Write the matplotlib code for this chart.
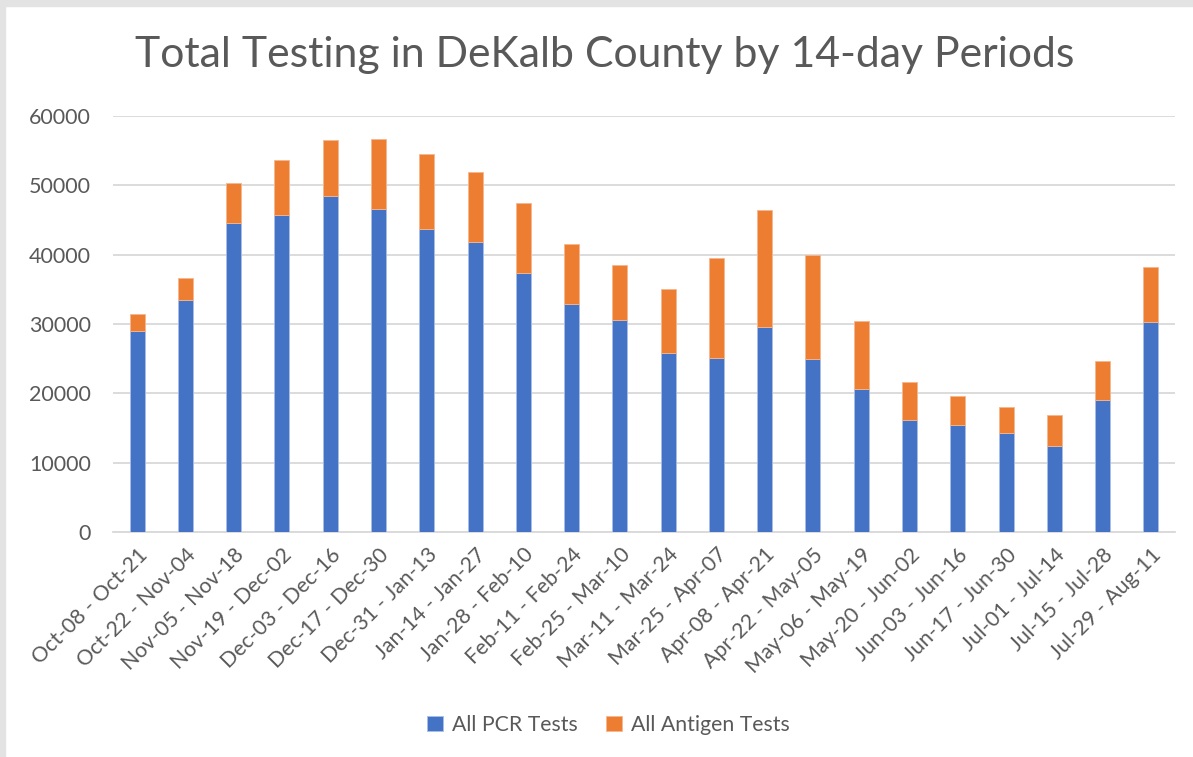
import matplotlib
matplotlib.use("Agg")
import matplotlib.pyplot as plt
from matplotlib.patches import Rectangle

# 14-day periods and test counts
periods = [
    "Oct-08 - Oct-21", "Oct-22 - Nov-04", "Nov-05 - Nov-18", "Nov-19 - Dec-02",
    "Dec-03 - Dec-16", "Dec-17 - Dec-30", "Dec-31 - Jan-13", "Jan-14 - Jan-27",
    "Jan-28 - Feb-10", "Feb-11 - Feb-24", "Feb-25 - Mar-10", "Mar-11 - Mar-24",
    "Mar-25 - Apr-07", "Apr-08 - Apr-21", "Apr-22 - May-05", "May-06 - May-19",
    "May-20 - Jun-02", "Jun-03 - Jun-16", "Jun-17 - Jun-30", "Jul-01 - Jul-14",
    "Jul-15 - Jul-28", "Jul-29 - Aug-11",
]
pcr_tests = [29040, 33460, 44520, 45720, 48510, 46640, 43700, 41780, 37400, 32930, 30630,
             25770, 25050, 29620, 24900, 20620, 16200, 15480, 14280, 12450, 19040, 30340]
total_tests = [31440, 36590, 50290, 53610, 56540, 56640, 54470, 51880, 47500, 41590, 38560,
               35050, 39470, 46390, 39900, 30430, 21590, 19620, 17980, 16880, 24710, 38170]
antigen_tests = [t - p for t, p in zip(total_tests, pcr_tests)]
y_ticks = [0, 10000, 20000, 30000, 40000, 50000, 60000]

plt.rcParams["font.family"] = ["Lato", "DejaVu Sans"]
text_color = "#595959"

fig = plt.figure(figsize=(11.93, 7.57), dpi=100)
# grey window frame at the top and left edges of the screenshot
fig.patches.append(Rectangle((0, 0), 5 / 1193, 1, transform=fig.transFigure,
                             color="#e3e3e3", zorder=-1))
fig.patches.append(Rectangle((0, 1 - 6 / 757), 1, 6 / 757, transform=fig.transFigure,
                             color="#e3e3e3", zorder=-1))

ax = fig.add_axes([113 / 1193, 1 - 532 / 757, (1175 - 113) / 1193, (532 - 116) / 757])
x = list(range(len(periods)))
ax.bar(x, pcr_tests, width=0.31, color="#4472C4", edgecolor="#a9bfe6", linewidth=0.6,
       label="All PCR Tests", zorder=3)
ax.bar(x, antigen_tests, width=0.31, bottom=pcr_tests, color="#ED7D31", edgecolor="#f5b78e",
       linewidth=0.6, label="All Antigen Tests", zorder=3)

ax.set_xlim(-0.5, len(periods) - 0.5)
ax.set_ylim(0, 60000)
ax.set_yticks(y_ticks)
ax.set_yticklabels([str(v) for v in y_ticks], fontsize=15.5, color=text_color)
ax.yaxis.grid(True, color="#d9d9d9", linewidth=1.3, zorder=0)
ax.tick_params(axis="y", length=0, pad=16)
ax.tick_params(axis="x", length=0, pad=9)
ax.set_xticks(x)
ax.set_xticklabels(periods, rotation=45, ha="right", rotation_mode="anchor",
                   fontsize=15.3, color=text_color)
for side in ["top", "right", "left"]:
    ax.spines[side].set_visible(False)
ax.spines["bottom"].set_color("#d9d9d9")
ax.spines["bottom"].set_linewidth(1.3)

fig.text(0.507, 1 - 55 / 757, "Total Testing in DeKalb County by 14-day Periods",
         ha="center", va="center", fontsize=30.8, color=text_color)

fig.legend(loc="center", bbox_to_anchor=(0.51, 1 - 725 / 757), ncol=2, frameon=False,
           fontsize=15.3, labelcolor=text_color, handlelength=0.75, handleheight=0.75,
           handletextpad=0.4, columnspacing=1.35)

fig.savefig("out.png", dpi=100, facecolor="white")
